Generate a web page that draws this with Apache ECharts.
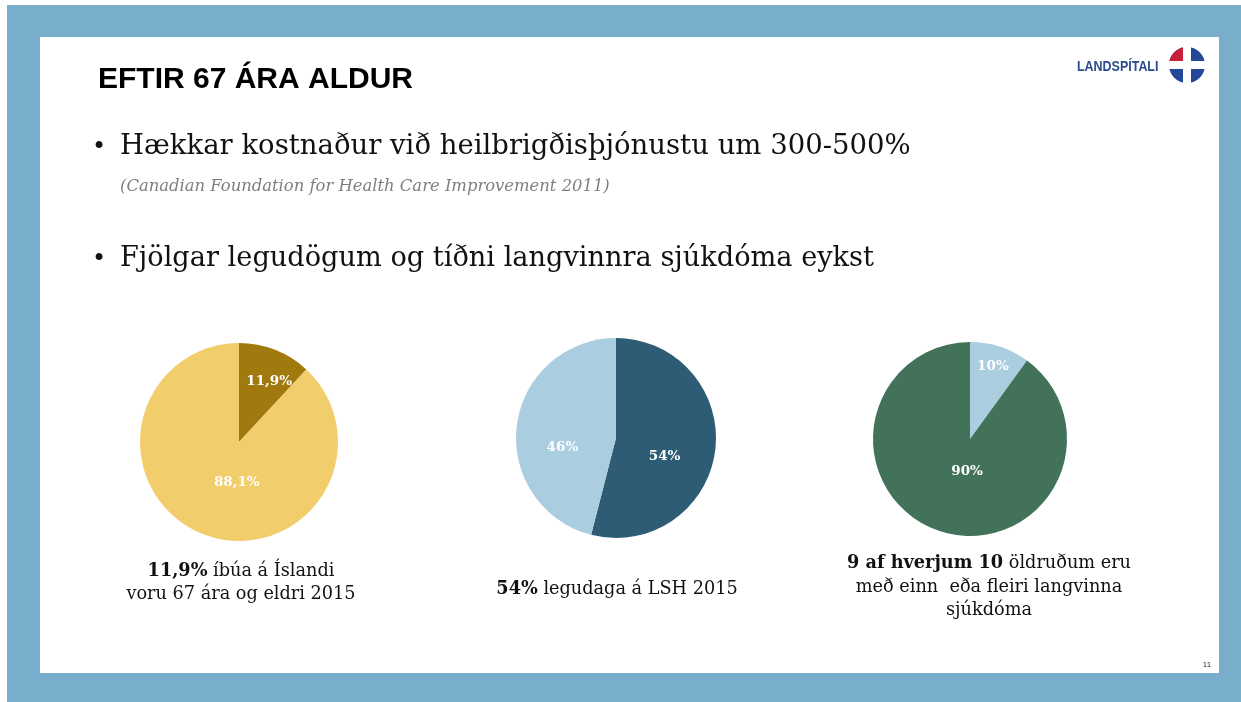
<!DOCTYPE html>
<html>
<head>
<meta charset="utf-8">
<script src="https://cdn.jsdelivr.net/npm/echarts@6/dist/echarts.min.js"></script>
<style>
  html, body { margin: 0; padding: 0; background: #fff; }
  #slide { width: 1241px; height: 702px; }
</style>
</head>
<body>
<div id="slide"></div>
<script>
// gögn
const pie1Names = ['67 ára og eldri', 'Yngri'];
const pie1Values = [11.9, 88.1];
const pie2Names = ['67 ára og eldri', 'Aðrir'];
const pie2Values = [54, 46];
const pie3Names = ['Án langvinns sjúkdóms', 'Með langvinnan sjúkdóm'];
const pie3Values = [10, 90];

// litir
const pie1Colors = ['#A07A0F', '#F2CD6B'];
const pie2Colors = ['#2E5C74', '#ABCDE0'];
const pie3Colors = ['#ABCDE0', '#42735A'];

// hliðrun merkja (eins og í glærunni)
const labelShift = [
  [[11, -12], [17, -8]],
  [[-4, 12], [-1, 16]],
  [[7, -24], [13, -16]]
]

const serif = '"DejaVu Serif", "Liberation Serif", serif'

function pct (v) {
  return String(v).replace('.', ',') + '%'
}

function pieSeries (idx, names, values, colors, center, r) {
  return {
    type: 'pie',
    center: center,
    radius: [0, r],
    startAngle: 90,
    clockwise: true,
    silent: true,
    emphasis: { disabled: true },
    itemStyle: { borderWidth: 0 },
    label: {
      show: true,
      position: 'inside',
      formatter: function (p) { return pct(p.value) },
      color: '#fff',
      fontFamily: serif,
      fontWeight: 'bold',
      fontSize: 13.5
    },
    labelLine: { show: false },
    labelLayout: function (p) {
      let s = labelShift[idx][p.dataIndex]
      return { dx: s[0], dy: s[1] }
    },
    data: names.map(function (n, i) {
      return { name: n, value: values[i], itemStyle: { color: colors[i] } }
    })
  }
}

function txt (text, x, y, style, extra) {
  return Object.assign({
    type: 'text',
    x: x,
    y: y,
    silent: true,
    style: Object.assign({
      text: text,
      fill: '#111',
      font: '18px ' + serif,
      textAlign: 'left',
      textVerticalAlign: 'middle'
    }, style || {})
  }, extra || {})
}

const capRich = { b: { fontWeight: 'bold', fontSize: 17.7, fontFamily: serif } }

let chart = echarts.init(document.getElementById('slide'))
let option = {
  animation: false,
  backgroundColor: '#fff',
  graphic: [
    // rammi
    { type: 'rect', z: -10, silent: true, shape: { x: 7, y: 5, width: 1234, height: 697 }, style: { fill: '#78AECB' } },
    { type: 'rect', z: -9, silent: true, shape: { x: 40, y: 37, width: 1179, height: 636 }, style: { fill: '#fff' } },
    // merki
    { type: 'circle', silent: true, shape: { cx: 1187, cy: 65, r: 18 }, style: { fill: '#24479A' } },
    { type: 'sector', silent: true, shape: { cx: 1187, cy: 65, r: 18, r0: 0, startAngle: Math.PI, endAngle: Math.PI * 1.5 }, style: { fill: '#C8203A' } },
    { type: 'rect', silent: true, shape: { x: 1183, y: 46, width: 8, height: 38 }, style: { fill: '#fff' } },
    { type: 'rect', silent: true, shape: { x: 1168, y: 61, width: 38, height: 8 }, style: { fill: '#fff' } },
    txt('LANDSPÍTALI', 1077, 67, { font: 'bold 14px "Liberation Sans", Arial, sans-serif', fill: '#2B4C8C' }, { scaleX: 0.89 }),
    // fyrirsögn
    txt('EFTIR 67 ÁRA ALDUR', 98, 80, { font: 'bold 30px "Liberation Sans", Arial, sans-serif', fill: '#000' }),
    // punktar
    txt('•', 99, 148, { font: '24px ' + serif, textAlign: 'center' }),
    txt('Hækkar kostnaður við heilbrigðisþjónustu um 300-500%', 120, 147, { font: '27.5px ' + serif }),
    txt('(Canadian Foundation for Health Care Improvement 2011)', 120, 187, { font: 'italic 16.4px ' + serif, fill: '#7F7F7F' }),
    txt('•', 99, 260, { font: '24px ' + serif, textAlign: 'center' }),
    txt('Fjölgar legudögum og tíðni langvinnra sjúkdóma eykst', 120, 259, { font: '27.2px ' + serif }),
    // skýringar
    txt('{b|11,9%} íbúa á Íslandi\nvoru 67 ára og eldri 2015', 241, 583, {
      font: '17.7px ' + serif, textAlign: 'center', lineHeight: 23, rich: capRich
    }),
    txt('{b|54%} legudaga á LSH 2015', 617, 589, {
      font: '17.7px ' + serif, textAlign: 'center', lineHeight: 23, rich: capRich
    }),
    txt('{b|9 af hverjum 10} öldruðum eru\nmeð einn  eða fleiri langvinna\nsjúkdóma', 989, 587, {
      font: '17.7px ' + serif, textAlign: 'center', lineHeight: 23.5, rich: capRich
    }),
    // blaðsíðutal
    txt('11', 1207, 665, { font: '8px "Liberation Sans", Arial, sans-serif', fill: '#333', textAlign: 'center' })
  ],
  series: [
    pieSeries(0, pie1Names, pie1Values, pie1Colors, [239, 442], 99),
    pieSeries(1, pie2Names, pie2Values, pie2Colors, [616, 438], 100),
    pieSeries(2, pie3Names, pie3Values, pie3Colors, [970, 439], 97)
  ]
}
chart.setOption(option)
</script>
</body>
</html>
